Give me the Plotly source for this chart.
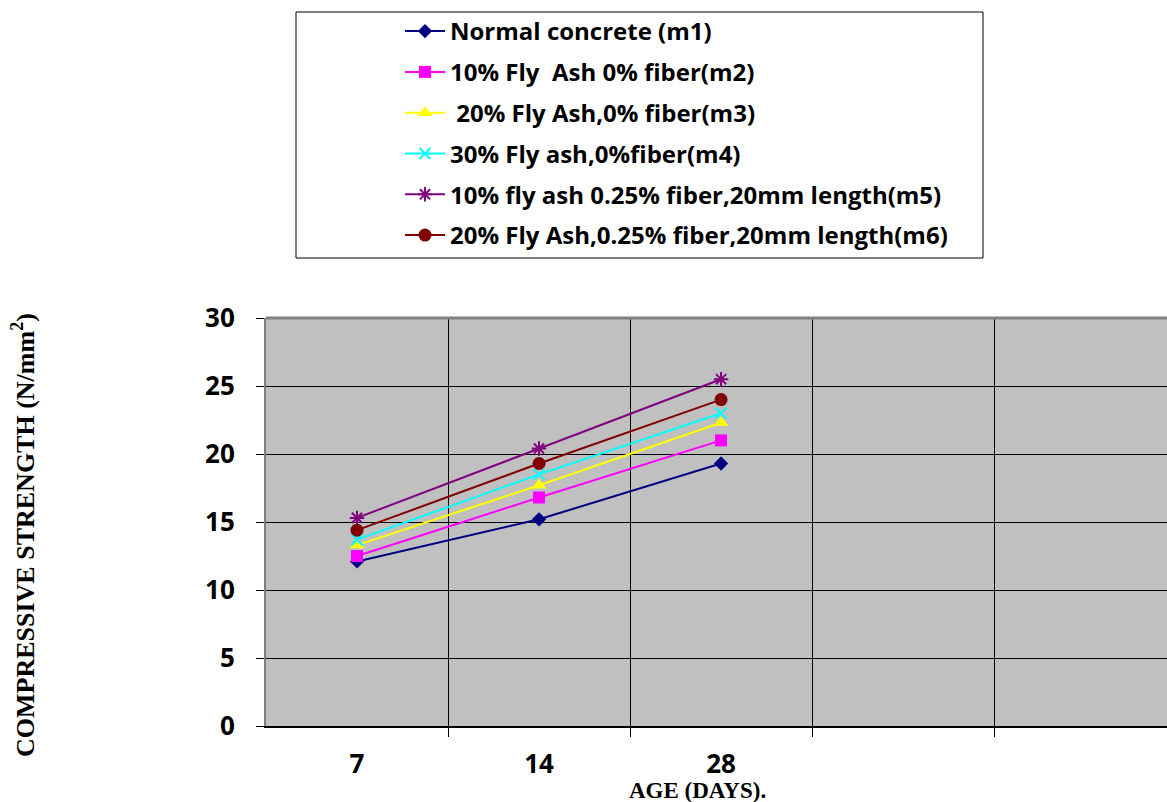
import plotly.graph_objects as go

ages = ["7", "14", "28"]
m1 = [12.1, 15.2, 19.3]
m2 = [12.5, 16.8, 21.0]
m3 = [13.3, 17.7, 22.3]
m4 = [13.7, 18.5, 23.0]
m5 = [15.3, 20.4, 25.5]
m6 = [14.4, 19.3, 24.0]

names = ["Normal concrete (m1)", "10% Fly  Ash 0% fiber(m2)", " 20% Fly Ash,0% fiber(m3)",
         "30% Fly ash,0%fiber(m4)", "10% fly ash 0.25% fiber,20mm length(m5)",
         "20% Fly Ash,0.25% fiber,20mm length(m6)"]
series = [m1, m2, m3, m4, m5, m6]
colors = ["#000080", "#FF00FF", "#FFFF00", "#00FFFF", "#800080", "#800000"]
symbols = ["diamond", "square", "triangle-up", "x-thin-open", "asterisk-open", "circle"]
sizes = [11, 12, 13, 11, 12, 13]

xpos = list(range(len(ages)))

fig = go.Figure()
for i, (nm, vals) in enumerate(zip(names, series)):
    open_sym = symbols[i].endswith("open")
    fig.add_trace(go.Scatter(
        x=xpos, y=vals, name=nm, mode="lines+markers",
        line=dict(color=colors[i], width=2),
        marker=dict(symbol=symbols[i], size=sizes[i], color=colors[i],
                    line=dict(color=colors[i], width=2 if open_sym else 0)),
        legendgroup=f"g{i}",
    ))

sans = "Open Sans, Lato, sans-serif"
serif = "Liberation Serif, Times New Roman, serif"

fig.update_layout(
    width=1167, height=802,
    margin=dict(l=266, r=0, t=318, b=76),
    paper_bgcolor="white",
    plot_bgcolor="#C0C0C0",
    showlegend=True,
    legend=dict(
        x=(400 - 266) / 901, y=(726 - 9) / 408, xanchor="left", yanchor="top",
        bgcolor="rgba(0,0,0,0)", borderwidth=0,
        font=dict(family=sans, size=24, color="black", weight="bold"),
        tracegroupgap=6.6, itemwidth=40,
    ),
    xaxis=dict(
        range=[-0.5, 4.45],
        tickvals=xpos, ticktext=ages,
        ticks="", showgrid=False, zeroline=False,
        showline=True, linecolor="black", linewidth=2,
        tickfont=dict(family=sans, size=26, color="black", weight="bold"),
        ticklabelstandoff=14,
        minor=dict(tickvals=[0.5, 1.5, 2.5, 3.5], ticks="outside", ticklen=9,
                   tickcolor="black", tickwidth=1, showgrid=True,
                   gridcolor="black", gridwidth=1),
    ),
    yaxis=dict(
        range=[0, 30], tickvals=[0, 5, 10, 15, 20, 25, 30],
        ticks="outside", ticklen=8, tickcolor="black",
        showgrid=True, gridcolor="black", gridwidth=1,
        zeroline=False, showline=True, linecolor="#808080", linewidth=2,
        tickfont=dict(family=sans, size=26, color="black", weight="bold"),
        ticklabelstandoff=16,
    ),
    shapes=[
        dict(type="rect", xref="paper", yref="paper",
             x0=(296 - 266) / 901, x1=(983 - 266) / 901,
             y0=(726 - 258) / 408, y1=(726 - 12) / 408,
             line=dict(color="black", width=1), fillcolor="rgba(0,0,0,0)", layer="below"),
        dict(type="line", xref="paper", yref="paper", x0=0, x1=1, y0=1, y1=1,
             line=dict(color="#808080", width=3)),
    ],
    annotations=[
        dict(text="COMPRESSIVE STRENGTH (N/mm<sup>2</sup>)", xref="paper", yref="paper",
             x=(23 - 266) / 901, y=(726 - 535) / 408, textangle=-90, showarrow=False,
             font=dict(family=serif, size=26, color="black", weight="bold"),
             xanchor="center", yanchor="middle"),
        dict(text="AGE (DAYS).", xref="paper", yref="paper",
             x=(697 - 266) / 901, y=(726 - 790) / 408, showarrow=False,
             font=dict(family=serif, size=23, color="black", weight="bold"),
             xanchor="center", yanchor="middle"),
    ],
)

fig.write_html("out.html")
